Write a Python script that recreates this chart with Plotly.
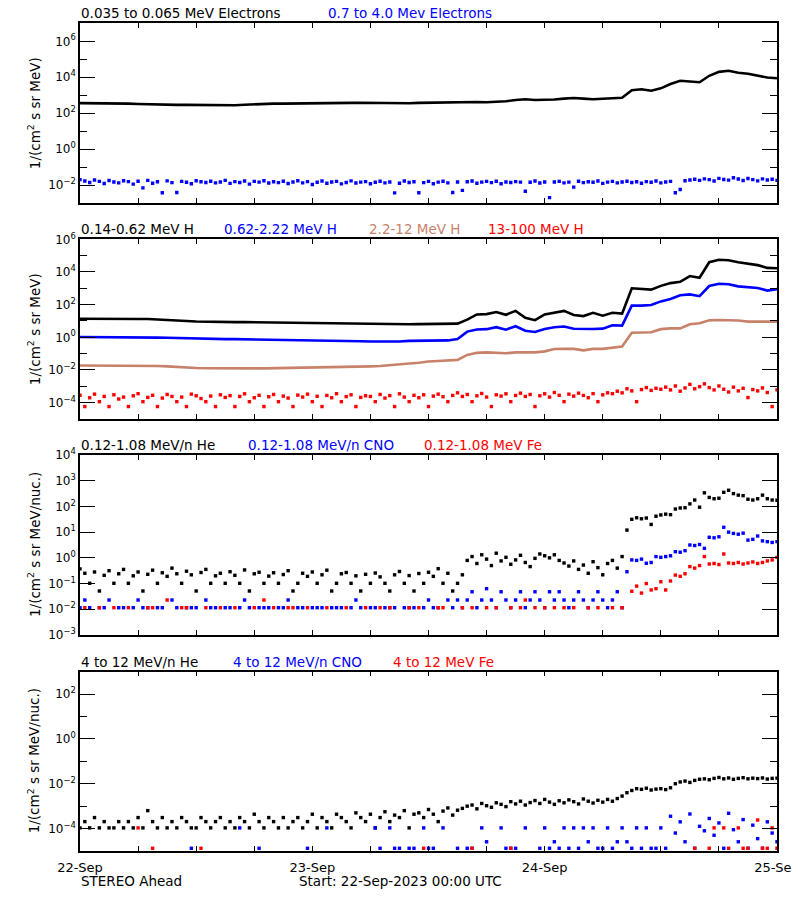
import numpy as np
import pandas as pd
import plotly.graph_objects as go

START = pd.Timestamp("2023-09-22 00:00")

# ---------------- data (log10 of flux) ----------------
# Panel 1: electrons (hourly)
e_lo_log10 = [
    2.56, 2.56, 2.55, 2.55, 2.54, 2.53, 2.51, 2.49, 2.47, 2.46,
    2.46, 2.46, 2.45, 2.45, 2.45, 2.44, 2.44, 2.47, 2.50, 2.52,
    2.53, 2.53, 2.53, 2.53, 2.53, 2.53, 2.53, 2.55, 2.57, 2.58,
    2.57, 2.55, 2.53, 2.53, 2.55, 2.57, 2.58, 2.60, 2.63, 2.64,
    2.63, 2.62, 2.61, 2.62, 2.66, 2.73, 2.77, 2.73, 2.73, 2.76,
    2.81, 2.84, 2.81, 2.77, 2.80, 2.84, 2.86, 3.28, 3.33, 3.25,
    3.38, 3.62, 3.80, 3.76, 3.72, 4.08, 4.30, 4.36, 4.25, 4.19,
    4.08, 3.98, 3.94]
# electrons 0.7-4.0 MeV (30 min)
e_hi_log10 = [
    -1.70, -1.78, -1.86, -1.72, -1.80, -1.92, -1.75, -1.83, -1.88, -1.76,
    -1.81, -1.95, -1.79, -2.16, -1.74, -1.90, -1.82, -2.43, -1.77, -1.87,
    -2.42, -1.80, -1.85, -1.93, -1.76, -1.82, -1.86, -1.79, -1.88, -1.83,
    -1.74, -1.91, -1.81, -1.86, -1.78, -1.95, -1.80, -1.84, -1.76, -1.89,
    -1.82, -1.87, -1.79, -1.92, -1.83, -1.76, -1.88, -1.81, -1.97, -1.85,
    -1.78, -1.90, -1.83, -1.80, -1.94, -1.86, -1.77, -1.89, -1.84, -1.81,
    -1.93, -1.85, -1.79, -1.88, -1.83, -2.44, -1.90, -1.78, -1.86, -1.82,
    -2.43, -1.87, -1.80, -1.93, -1.84, -1.79, -1.88, -2.42, -1.83, -2.30,
    -1.82, -1.78, -1.90, -1.84, -1.80, -1.87, -1.79, -1.93, -1.83, -1.86,
    -1.81, -1.84, -2.35, -1.85, -1.78, -1.89, -1.83, -2.70, -1.83, -1.80,
    -1.88, -1.84, -2.12, -1.79, -1.87, -1.82, -1.85, -1.78, -1.91, -1.84,
    -1.80, -1.88, -1.83, -1.79, -1.86, -1.82, -1.90, -1.81, -1.85, -1.78,
    -1.88, -1.83, -1.80, -2.43, -2.25, -1.76, -1.72, -1.68, -1.74, -1.66,
    -1.70, -1.78, -1.63, -1.69, -1.73, -1.60, -1.67, -1.75, -1.64, -1.70,
    -1.77, -1.66, -1.72, -1.68, -1.74]

# Panel 2: protons (hourly for first three)
h_014_log10 = [
    1.14, 1.13, 1.12, 1.12, 1.13, 1.12, 1.12, 1.12, 1.10, 1.05,
    1.03, 1.00, 0.97, 0.95, 0.94, 0.94, 0.93, 0.93, 0.92, 0.92,
    0.92, 0.91, 0.91, 0.90, 0.89, 0.88, 0.87, 0.86, 0.85, 0.84,
    0.81, 0.80, 0.80, 0.80, 0.80, 0.81, 0.81, 0.81, 0.82, 0.84,
    1.08, 1.40, 1.42, 1.55, 1.38, 1.62, 1.20, 1.05, 1.40, 1.50,
    1.62, 1.37, 1.30, 1.50, 1.32, 1.50, 1.45, 3.00, 2.95, 2.92,
    3.15, 3.32, 3.40, 3.75, 3.65, 4.60, 4.75, 4.72, 4.60, 4.50,
    4.42, 4.25, 4.23]
h_062_log10 = [
    0.02, 0.02, 0.01, 0.00, 0.00, 0.00, -0.01, -0.01, -0.02, -0.03,
    -0.05, -0.07, -0.09, -0.10, -0.10, -0.11, -0.11, -0.12, -0.13, -0.14,
    -0.14, -0.14, -0.14, -0.15, -0.15, -0.16, -0.17, -0.19, -0.21, -0.24,
    -0.26, -0.27, -0.27, -0.26, -0.22, -0.21, -0.20, -0.20, -0.19, -0.10,
    0.35, 0.48, 0.50, 0.62, 0.47, 0.68, 0.40, 0.33, 0.51, 0.62,
    0.66, 0.52, 0.50, 0.51, 0.53, 0.74, 0.72, 1.94, 1.94, 1.98,
    2.20, 2.35, 2.58, 2.63, 2.52, 3.14, 3.28, 3.25, 3.12, 3.08,
    3.02, 2.86, 2.95]
h_22_log10 = [
    -1.73, -1.73, -1.74, -1.74, -1.74, -1.75, -1.74, -1.76, -1.76, -1.78,
    -1.82, -1.86, -1.88, -1.89, -1.90, -1.90, -1.90, -1.90, -1.90, -1.90,
    -1.89, -1.89, -1.88, -1.88, -1.87, -1.86, -1.86, -1.85, -1.83, -1.80,
    -1.78, -1.76, -1.70, -1.63, -1.60, -1.56, -1.48, -1.45, -1.43, -1.38,
    -1.08, -0.95, -0.92, -0.93, -0.98, -0.92, -0.92, -0.92, -0.86, -0.72,
    -0.71, -0.71, -0.80, -0.71, -0.71, -0.62, -0.56, 0.28, 0.31, 0.31,
    0.50, 0.55, 0.55, 0.80, 0.86, 1.04, 1.06, 1.06, 1.03, 0.96,
    0.96, 0.97, 0.96]
# 13-100 MeV H (30 min)
h_13_log10 = [
    -3.55, -4.24, -3.70, -3.48, -3.94, -3.62, -4.24, -3.52, -3.78, -3.66,
    -4.24, -3.58, -3.45, -3.94, -3.68, -3.55, -4.24, -3.72, -3.50, -3.62,
    -3.94, -3.66, -4.24, -3.48, -3.58, -3.75, -3.94, -3.60, -4.24, -3.52,
    -3.68, -3.57, -4.24, -3.62, -3.46, -3.94, -3.70, -3.55, -4.24, -3.64,
    -3.50, -3.94, -3.60, -3.72, -4.24, -3.54, -3.66, -3.48, -3.94, -3.61,
    -4.24, -3.56, -3.70, -3.45, -3.94, -3.63, -3.52, -4.24, -3.68, -3.58,
    -3.62, -3.94, -3.50, -3.72, -3.57, -4.24, -3.46, -3.66, -3.94, -3.55,
    -3.70, -3.52, -4.24, -3.60, -3.48, -3.64, -3.94, -3.56, -3.40, -3.62,
    -3.50, -3.94, -3.58, -3.44, -3.66, -4.24, -3.52, -3.60, -3.46, -3.94,
    -3.56, -3.42, -3.62, -3.50, -4.24, -3.58, -3.46, -3.66, -3.38, -3.55,
    -3.94, -3.48, -3.60, -3.42, -3.56, -3.70, -3.45, -3.94, -3.52, -3.40,
    -3.45, -3.30, -3.40, -3.15, -3.28, -3.94, -3.20, -3.08, -3.25, -3.12,
    -3.18, -3.05, -3.22, -2.98, -3.30, -3.10, -2.88, -3.15, -3.02, -2.85,
    -3.08, -3.22, -2.98, -3.18, -3.35, -3.05, -3.28, -3.12, -3.69, -3.20,
    -3.28, -3.10, -3.38, -4.24, -3.22]

# Panel 3: 0.12-1.08 MeV/n (30 min); None = no point
he_lo_log10 = [
    -0.43, -0.60, -0.99, -0.55, -1.29, -0.68, -0.50, -0.99, -0.62, -0.45,
    -0.99, -0.70, -0.55, -1.29, -0.64, -0.48, -0.99, -0.58, -0.72, -0.40,
    -0.62, -0.99, -0.52, -0.66, -1.29, -0.57, -0.45, -0.99, -0.70, -0.60,
    -0.99, -0.54, -0.68, -0.99, -0.47, -1.29, -0.62, -0.56, -0.99, -0.71,
    -0.58, -0.99, -0.65, -0.50, -1.29, -0.99, -0.60, -0.72, -0.55, -0.99,
    -0.66, -0.48, -1.29, -0.99, -0.62, -0.57, -0.99, -0.70, -1.29, -0.64,
    -0.99, -0.59, -0.74, -0.99, -1.29, -0.66, -0.53, -0.99, -0.69, -1.29,
    -0.61, -0.99, -0.56, -0.72, -0.42, -0.99, -0.60, -1.29, -0.99, -0.66,
    -0.10, 0.05, -0.22, 0.12, -0.05, -0.30, 0.18, -0.12, 0.02, -0.25,
    -0.08, 0.10, -0.18, -0.34, -0.02, 0.15, 0.08, 0.00, 0.12, -0.10,
    -0.20, -0.32, -0.12, -0.45, -0.28, -0.60, -0.15, -0.38, -0.66, -0.22,
    -0.10, -0.40, 0.05, 1.08, 1.50, 1.56, 1.52, 1.55, 1.30, 1.62,
    1.67, 1.70, 1.68, 1.90, 1.94, 1.95, 2.10, 2.25, 1.97, 2.53,
    2.35, 2.30, 2.32, 2.55, 2.63, 2.50, 2.44, 2.42, 2.28, 2.25,
    2.30, 2.44, 2.30, 2.25, 2.24]
cno_lo_log10 = [
    -1.94, -1.64, -1.94, None, -1.94, -1.94, -1.64, None, -1.94, -1.94,
    None, -1.94, -1.64, -1.94, -1.94, None, -1.94, -1.94, None, -1.64,
    -1.94, None, -1.94, -1.94, -1.94, None, -1.64, -1.94, -1.94, None,
    -1.94, -1.94, None, -1.94, -1.64, -1.94, None, -1.94, -1.94, -1.94,
    None, -1.94, -1.94, -1.64, None, -1.94, -1.94, None, -1.94, -1.94,
    -1.94, None, -1.94, -1.94, -1.94, None, -1.94, -1.64, -1.94, None,
    -1.94, -1.94, None, -1.94, -1.94, -1.94, None, -1.94, -1.94, -1.94,
    None, -1.94, -1.64, -1.94, -1.94, None, -1.64, -1.94, -1.64, -1.94,
    -1.64, -1.32, -1.94, -1.64, -1.20, -1.64, -1.94, -1.32, -1.64, -1.94,
    -1.64, -1.32, -1.94, -1.64, -1.32, -1.64, -1.94, -1.32, -1.64, -1.32,
    -1.64, -1.94, -1.64, -1.32, -1.64, -1.94, -1.64, -1.32, -1.64, -1.94,
    -1.64, -1.32, -1.94, -0.54, -0.08, -0.10, -0.05, -0.21, -0.18, 0.05,
    0.02, 0.05, 0.08, 0.24, 0.22, 0.28, 0.50, 0.48, 0.52, 0.37,
    0.80, 0.78, 0.82, 1.19, 1.00, 0.95, 0.92, 0.96, 0.69, 0.72,
    0.85, 0.66, 0.63, 0.60, 0.63]
fe_lo_log10 = [
    None, -1.94, None, None, -1.94, None, None, -1.94, None, None,
    -1.94, None, None, None, -1.94, -1.94, None, None, -1.64, None,
    None, -1.94, -1.94, None, None, None, -1.94, None, None, -1.94,
    None, None, -1.94, None, None, None, -1.94, None, -1.64, None,
    -1.94, None, None, -1.94, -1.94, None, None, -1.94, None, None,
    None, -1.94, None, None, None, -1.94, None, None, None, -1.94,
    None, None, -1.94, None, -1.94, None, None, None, -1.94, None,
    -1.94, None, None, None, -1.94, -1.94, None, None, None, -1.94,
    None, -1.94, None, None, -1.94, None, -1.94, None, None, -1.94,
    None, -1.94, -1.64, None, -1.94, None, -1.94, None, -1.94, None,
    -1.94, None, -1.94, None, None, -1.94, None, -1.94, None, None,
    -1.94, None, -1.94, None, -1.30, -1.10, -1.37, -1.00, -1.25, -1.20,
    -0.93, -1.25, -0.90, -0.67, -0.72, -0.62, -0.34, -0.40, -0.30, 0.05,
    -0.24, -0.22, -0.26, 0.15, -0.20, -0.22, -0.18, -0.24, -0.20, -0.16,
    -0.22, -0.18, -0.12, -0.08, 0.02]

# Panel 4: 4-12 MeV/n (30 min); None = no point
he_hi_log10 = [
    -3.97, -3.69, -3.97, -3.51, -3.97, -3.69, -3.97, -3.97, -3.69, -3.97,
    -3.69, -3.97, -3.51, -3.97, -3.20, -3.69, -3.97, -3.51, -3.97, -3.69,
    -3.97, -3.51, -3.69, -3.97, -3.97, -3.51, -3.69, -3.97, -3.69, -3.51,
    -3.97, -3.69, -3.97, -3.51, -3.69, -3.97, -3.36, -3.69, -3.97, -3.51,
    -3.69, -3.97, -3.51, -3.97, -3.69, -3.51, -3.97, -3.69, -3.36, -3.97,
    -3.51, -3.69, -3.97, -3.36, -3.51, -3.69, -3.97, -3.30, -3.51, -3.69,
    -3.36, -3.97, -3.51, -3.25, -3.69, -3.40, -3.51, -3.20, -3.97, -3.36,
    -3.30, -3.51, -3.15, -3.36, -3.69, -3.22, -3.08, -3.40, -3.18, -3.10,
    -3.00, -2.95, -3.12, -2.88, -2.98, -3.05, -2.85, -2.92, -3.02, -2.80,
    -2.90, -2.78, -2.95, -2.84, -2.75, -2.88, -2.70, -2.82, -2.92, -2.76,
    -2.85, -2.72, -2.80, -2.90, -2.68, -2.78, -2.86, -2.74, -2.82, -2.70,
    -2.78, -2.66, -2.55, -2.40, -2.30, -2.22, -2.25, -2.20, -2.28, -2.24,
    -2.22, -2.26, -2.18, -2.00, -1.92, -1.88, -1.94, -1.85, -1.80, -1.78,
    -1.82, -1.76, -1.72, -1.78, -1.74, -1.80, -1.76, -1.73, -1.78, -1.75,
    -1.77, -1.74, -1.79, -1.76, -1.75]
cno_hi_log10 = [
    None, None, None, None, None, None, None, None, None, None,
    None, None, None, None, None, None, None, None, None, None,
    None, None, None, -4.88, None, None, None, None, None, None,
    None, None, None, -3.97, None, None, None, -4.88, None, None,
    None, None, None, None, None, None, None, -4.88, None, None,
    None, -3.97, None, None, None, None, None, None, None, None,
    None, -3.97, -4.88, None, -3.97, -4.88, -4.88, None, -4.88, -4.88,
    None, -3.97, -4.88, -4.88, None, -3.97, None, None, -4.88, None,
    -4.88, -4.88, None, -3.97, -4.59, None, None, -3.97, -4.88, -4.88,
    -4.88, None, -3.97, None, None, -4.88, -3.97, -4.88, -4.59, -4.88,
    -3.97, -4.88, -3.97, -4.88, -3.97, -4.59, -3.97, -4.88, -4.88, -3.97,
    -4.88, -4.59, -3.97, -4.59, -4.88, -3.97, -4.88, -3.97, -4.88, -4.88,
    -3.97, -4.88, -3.45, -4.20, -3.70, -4.59, -3.35, -4.88, -3.90, -4.10,
    -3.55, -4.30, -3.75, -4.88, -3.32, -4.05, -4.59, -3.60, -4.88, -3.85,
    -4.45, -4.88, -3.70, -4.20, -4.59]
fe_hi_log10 = [
    None, None, None, None, None, None, None, None, None, None,
    None, None, -3.97, None, None, -4.88, None, None, None, None,
    None, None, None, None, None, -4.88, None, None, None, None,
    None, None, None, None, None, None, None, None, None, None,
    None, None, None, None, None, None, None, None, None, None,
    None, None, None, None, None, None, None, None, None, None,
    None, None, None, None, None, None, None, None, None, None,
    None, -4.88, None, None, None, None, None, None, None, None,
    None, -4.88, None, None, None, None, None, None, None, -4.88,
    None, None, None, None, None, None, None, None, None, None,
    None, None, None, None, None, None, None, None, None, None,
    None, None, None, None, None, None, None, None, None, None,
    None, None, None, None, None, None, None, -4.88, None, None,
    -4.88, -3.97, None, -3.97, -4.88, None, -3.97, -4.88, -4.88, None,
    -3.62, -4.88, -4.88, -3.97, -4.88]

# tick labels
day_ticks = ["2023-09-22", "2023-09-23", "2023-09-24", "2023-09-25"]
day_labels = ["22-Sep", "23-Sep", "24-Sep", "25-Sep"]

# ---------------- helpers ----------------
def times(vals, minutes):
    return START + pd.to_timedelta(np.arange(len(vals)) * minutes, unit="min")

def flux(vals):
    return 10 ** np.array([np.nan if v is None else v for v in vals], dtype=float)

# page body has an 8 px margin: lay out in reference pixels minus that offset
OFF = 8
W, H = 800 - OFF, 900 - 2 * OFF
def px(x):
    return (x - OFF) / W
def py(y):
    return 1 - (y - OFF) / H

X0, X1 = 80, 777
panels = [  # (top_px, bottom_px, log range) in reference pixels
    (23.3, 203.0, (-3, 7)),
    (239.3, 419.0, (-5, 6)),
    (455.0, 635.0, (-3, 4)),
    (671.7, 851.0, (-5, 3)),
]
labeled = [
    [-2, 0, 2, 4, 6],
    [-4, -2, 0, 2, 4, 6],
    [-3, -2, -1, 0, 1, 2, 3, 4],
    [-4, -2, 0, 2],
]
minor = [
    [-1, 1, 3, 5],
    [-3, -1, 1, 3, 5],
    [],
    [-3, -1, 1],
]

FONT = "DejaVu Sans"
BLUE = "#0000FF"
RED = "#FF0000"
BROWN = "#C8826A"

fig = go.Figure()

def add_line(vals, minutes, color, k, width=2.6):
    fig.add_trace(go.Scatter(x=times(vals, minutes), y=flux(vals), mode="lines",
                             line=dict(color=color, width=width),
                             xaxis=f"x{k}", yaxis=f"y{k}", showlegend=False))

def add_pts(vals, minutes, color, k, size=3.4):
    fig.add_trace(go.Scatter(x=times(vals, minutes), y=flux(vals), mode="markers",
                             marker=dict(color=color, size=size, symbol="square",
                                         line=dict(width=0)),
                             xaxis=f"x{k}", yaxis=f"y{k}", showlegend=False))

add_line(e_lo_log10, 60, "black", 1)
add_pts(e_hi_log10, 30, BLUE, 1)

add_line(h_014_log10, 60, "black", 2)
add_line(h_062_log10, 60, BLUE, 2)
add_line(h_22_log10, 60, BROWN, 2)
add_pts(h_13_log10, 30, RED, 2)

add_pts(he_lo_log10, 30, "black", 3)
add_pts(cno_lo_log10, 30, BLUE, 3)
add_pts(fe_lo_log10, 30, RED, 3)

add_pts(he_hi_log10, 30, "black", 4)
add_pts(cno_hi_log10, 30, BLUE, 4)
add_pts(fe_hi_log10, 30, RED, 4)

six_hour_ticks = list(pd.date_range("2023-09-22", "2023-09-25", freq="6h"))
layout = {}
for i, (top, bot, (lo, hi)) in enumerate(panels):
    k = i + 1
    sfx = "" if k == 1 else str(k)
    last = (k == 4)
    ticktext = []
    for t in six_hour_ticks:
        s = t.strftime("%Y-%m-%d")
        if last and t.hour == 0 and s in day_ticks:
            ticktext.append(day_labels[day_ticks.index(s)])
        else:
            ticktext.append("")
    layout["xaxis" + sfx] = dict(
        domain=[px(X0), px(X1)], anchor="y" + sfx, type="date",
        range=["2023-09-22 00:00", "2023-09-25 00:00"],
        tickmode="array", tickvals=six_hour_ticks, ticktext=ticktext,
        ticks="inside", ticklen=5, tickwidth=1.2, tickcolor="black",
        showline=True, linecolor="black", linewidth=1.5, mirror="ticks",
        showgrid=False, zeroline=False, automargin=False,
        tickfont=dict(family=FONT, size=13, color="black"),
        ticklabelstandoff=4,
    )
    layout["yaxis" + sfx] = dict(
        domain=[py(bot), py(top)], anchor="x" + sfx, type="log",
        range=[lo - 0.002, hi + 0.002],
        tickmode="array",
        tickvals=[10.0 ** p for p in labeled[i]],
        ticktext=[f"10<sup>{'−' if p < 0 else ''}{abs(p)}</sup>" for p in labeled[i]],
        ticks="inside", ticklen=15, tickwidth=1.2, tickcolor="black",
        showline=True, linecolor="black", linewidth=1.5, mirror="ticks",
        showgrid=False, zeroline=False, automargin=False,
        tickfont=dict(family=FONT, size=12, color="black"),
        minor=dict(tickmode="array", tickvals=[10.0 ** p for p in minor[i]],
                   ticks="inside", ticklen=7, tickwidth=1.2, tickcolor="black",
                   showgrid=False),
    )

titles = [
    [("0.035 to 0.065 MeV Electrons", "black", 81), ("0.7 to 4.0 Mev Electrons", BLUE, 328)],
    [("0.14-0.62 MeV H", "black", 81), ("0.62-2.22 MeV H", BLUE, 224),
     ("2.2-12 MeV H", BROWN, 369), ("13-100 MeV H", RED, 488)],
    [("0.12-1.08 MeV/n He", "black", 81), ("0.12-1.08 MeV/n CNO", BLUE, 248),
     ("0.12-1.08 MeV Fe", RED, 424)],
    [("4 to 12 MeV/n He", "black", 81), ("4 to 12 MeV/n CNO", BLUE, 233),
     ("4 to 12 MeV Fe", RED, 393)],
]
ytitles = ["1/(cm<sup>2</sup> s sr MeV)", "1/(cm<sup>2</sup> s sr MeV)",
           "1/(cm<sup>2</sup> s sr MeV/nuc.)", "1/(cm<sup>2</sup> s sr MeV/nuc.)"]

ann = []
for i, (top, bot, _) in enumerate(panels):
    for text, color, xl in titles[i]:
        ann.append(dict(text=text, x=px(xl - 2), y=py(top - 10),
                        xref="paper", yref="paper", xanchor="left", yanchor="middle",
                        showarrow=False, font=dict(family=FONT, size=13.5, color=color)))
    ann.append(dict(text=ytitles[i], x=px(34), y=py((top + bot) / 2),
                    xref="paper", yref="paper", xanchor="center", yanchor="middle",
                    textangle=-90, showarrow=False,
                    font=dict(family=FONT, size=13.5, color="black")))

ann.append(dict(text="STEREO Ahead", x=px(79), y=py(881), xref="paper", yref="paper",
                xanchor="left", yanchor="middle", showarrow=False,
                font=dict(family=FONT, size=13.5, color="black")))
ann.append(dict(text="Start: 22-Sep-2023 00:00 UTC", x=px(400), y=py(881),
                xref="paper", yref="paper", xanchor="center", yanchor="middle",
                showarrow=False, font=dict(family=FONT, size=13.5, color="black")))

fig.update_layout(
    width=W, height=H,
    margin=dict(l=0, r=0, t=0, b=0, autoexpand=False),
    paper_bgcolor="white", plot_bgcolor="white",
    font=dict(family=FONT, size=13, color="black"),
    annotations=ann,
    showlegend=False,
    **layout,
)

fig.write_html("out.html")
